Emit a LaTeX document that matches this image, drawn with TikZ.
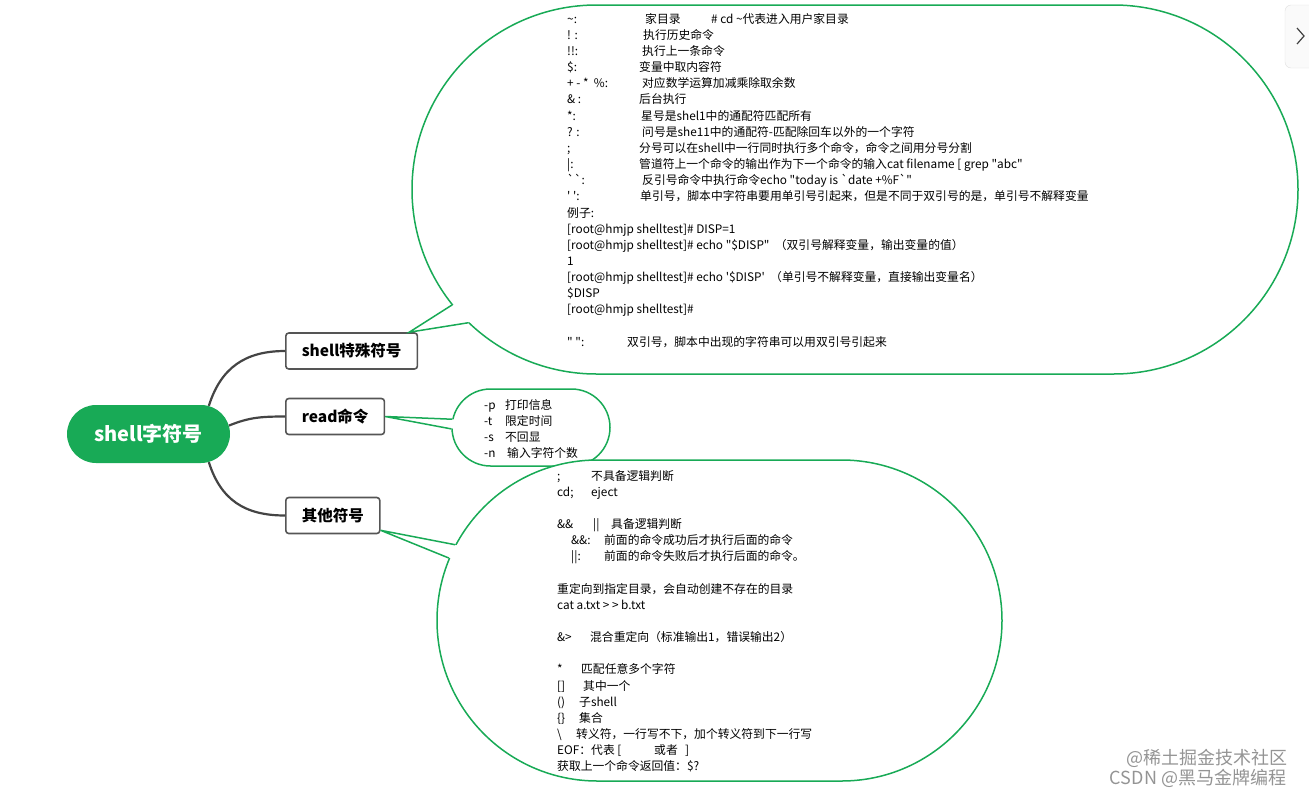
\documentclass[tikz,border=0pt]{standalone}
\usepackage{fontspec}
\setmainfont{Noto Sans CJK SC}
\usetikzlibrary{shapes.misc,calc}
\definecolor{mind}{RGB}{24,170,86}
\definecolor{edge}{RGB}{68,68,68}
\definecolor{frame}{RGB}{85,85,85}
\newcommand{\lab}[2]{\makebox[#1pt][l]{#2}}
\newcommand{\dq}{\textquotedbl{}}

\begin{document}
\begin{tikzpicture}[x=1pt,y=-1pt,
  root/.style={rounded rectangle,fill=mind,text=white,font=\fontsize{20}{24}\selectfont\bfseries,
               minimum width=163pt,minimum height=58pt,inner sep=0pt},
  topic/.style={rectangle,rounded corners=3pt,draw=frame,line width=1.6pt,fill=white,
                font=\fontsize{15.5}{18}\selectfont\bfseries,minimum height=36pt,inner xsep=16pt,inner ysep=0pt},
  callout/.style={rounded rectangle,draw=mind,line width=1.5pt,fill=white,inner sep=0pt},
  note/.style={anchor=north west,inner sep=0pt,align=left,font=\fontsize{11.8}{16.15}\selectfont},
  wmark/.style={inner sep=0pt,text=black!42,font=\fontsize{18}{20}\selectfont},
  branch/.style={draw=edge,line width=2.2pt},
  tail/.style={draw=mind,line width=1.5pt,line join=miter}]

  \useasboundingbox (0,0) rectangle (1309,796);

  \node[root] (root) at (148.5,434) {shell字符号};

  \node[topic,anchor=west] (special) at (285,351)   {shell特殊符号};
  \node[topic,anchor=west] (read)    at (285,416.5) {read命令};
  \node[topic,anchor=west] (other)   at (285,515.5) {其他符号};

  \draw[branch] (root.25) .. controls +(12,-38) and +(-40,0) .. (special.west);
  \draw[branch] (root.6)  .. controls +(20,-8) and +(-25,0) .. (read.west);
  \draw[branch] (root.-25) .. controls +(12,38) and +(-40,0) .. (other.west);

  % callouts
  \node[callout,minimum width=886pt,minimum height=369pt] (specbox)  at (855,189.5) {};
  \node[callout,minimum width=158pt,minimum height=77pt]  (readbox)  at (531,427.5) {};
  \node[callout,minimum width=565pt,minimum height=321pt] (otherbox) at (719.5,620.5) {};

  \coordinate (t1) at ($(special.north east)+(-9,0)$);
  \coordinate (t2) at (read.east);
  \coordinate (t3) at ($(other.south east)+(0,-4)$);

  \fill[white] (t1) -- ($(specbox.196)!3pt!(specbox.center)$) -- ($(specbox.199)!3pt!(specbox.center)$) -- cycle;
  \draw[tail] (specbox.196) -- (t1) -- (specbox.199);
  \fill[white] (t2) -- ($(readbox.174)!3pt!(readbox.center)$) -- ($(readbox.181)!3pt!(readbox.center)$) -- cycle;
  \draw[tail] (readbox.174) -- (t2) -- (readbox.181);
  \fill[white] (t3) -- ($(otherbox.164)!3pt!(otherbox.center)$) -- ($(otherbox.167)!3pt!(otherbox.center)$) -- cycle;
  \draw[tail] (otherbox.164) -- (t3) -- (otherbox.167);

  \node[note] (spectext) at (567,13) {%
    \lab{78}{\textasciitilde:}\lab{66}{家目录}\# cd \textasciitilde{}代表进入用户家目录\\
    \lab{76}{! :}执行历史命令\\
    \lab{75}{!!:}执行上一条命令\\
    \lab{72}{\$:}变量中取内容符\\
    \lab{75}{+ - *\ \ \%:}对应数学运算加减乘除取余数\\
    \lab{72}{\& :}后台执行\\
    \lab{74}{*:}星号是shel1中的通配符匹配所有\\
    \lab{75}{? :}问号是she11中的通配符-匹配除回车以外的一个字符\\
    \lab{72}{;}分号可以在shell中一行同时执行多个命令，命令之间用分号分割\\
    \lab{72}{\textbar:}管道符上一个命令的输出作为下一个命令的输入cat filename [ grep \dq abc\dq\\
    \lab{75}{\textasciigrave\textasciigrave:}反引号命令中执行命令echo \dq today is \textasciigrave{}date +\%F\textasciigrave\dq\\
    \lab{73}{\textquotesingle\ \textquotesingle:}单引号，脚本中字符串要用单引号引起来，但是不同于双引号的是，单引号不解释变量\\
    例子:\\
    {[}root@hmjp shelltest]\# DISP=1\\
    {[}root@hmjp shelltest]\# echo \dq\$DISP\dq\ \ （双引号解释变量，输出变量的值）\\
    1\\
    {[}root@hmjp shelltest]\# echo \textquotesingle\$DISP\textquotesingle{}\ \ （单引号不解释变量，直接输出变量名）\\
    \$DISP\\
    {[}root@hmjp shelltest]\#\\[16.15pt]
    \lab{60}{\dq\ \dq:}双引号，脚本中出现的字符串可以用双引号引起来};

  \node[note] (readtext) at (484,399) {%
    \lab{21}{-p}打印信息\\
    \lab{21}{-t}限定时间\\
    \lab{21}{-s}不回显\\
    \lab{23}{-n}输入字符个数};

  \node[note] (othertext) at (557,470) {%
    \lab{34}{;}不具备逻辑判断\\
    \lab{34}{cd;}eject\\[16.15pt]
    \lab{36}{\&\&}\lab{18}{||}具备逻辑判断\\
    \hspace*{14pt}\lab{33}{\&\&:}前面的命令成功后才执行后面的命令\\
    \hspace*{14pt}\lab{33}{||:}前面的命令失败后才执行后面的命令。\\[16.15pt]
    重定向到指定目录，会自动创建不存在的目录\\
    cat a.txt > > b.txt\\[16.15pt]
    \lab{33}{\&>}混合重定向（标准输出1，错误输出2）\\[16.15pt]
    \lab{24}{*}匹配任意多个字符\\
    \lab{26}{{[]}}其中一个\\
    \lab{22}{()}子shell\\
    \lab{22}{\{\}}集合\\
    \lab{19}{\textbackslash}转义符，一行写不下，加个转义符到下一行写\\
    \lab{97}{EOF：代表 [}\lab{31}{或者}]\\
    获取上一个命令返回值：\$?};

  \node[wmark] (wm1) at (1207,758) {@稀土掘金技术社区};
  \node[wmark] (wm2) at (1198,778) {CSDN @黑马金牌编程};

  % side button
  \draw[gray!25,fill=gray!4,rounded corners=6pt] (1285,5) rectangle (1325,68);
  \draw[black!75,line width=1.2pt] (1297,28) -- (1304,36) -- (1297,44);
\end{tikzpicture}
\end{document}
